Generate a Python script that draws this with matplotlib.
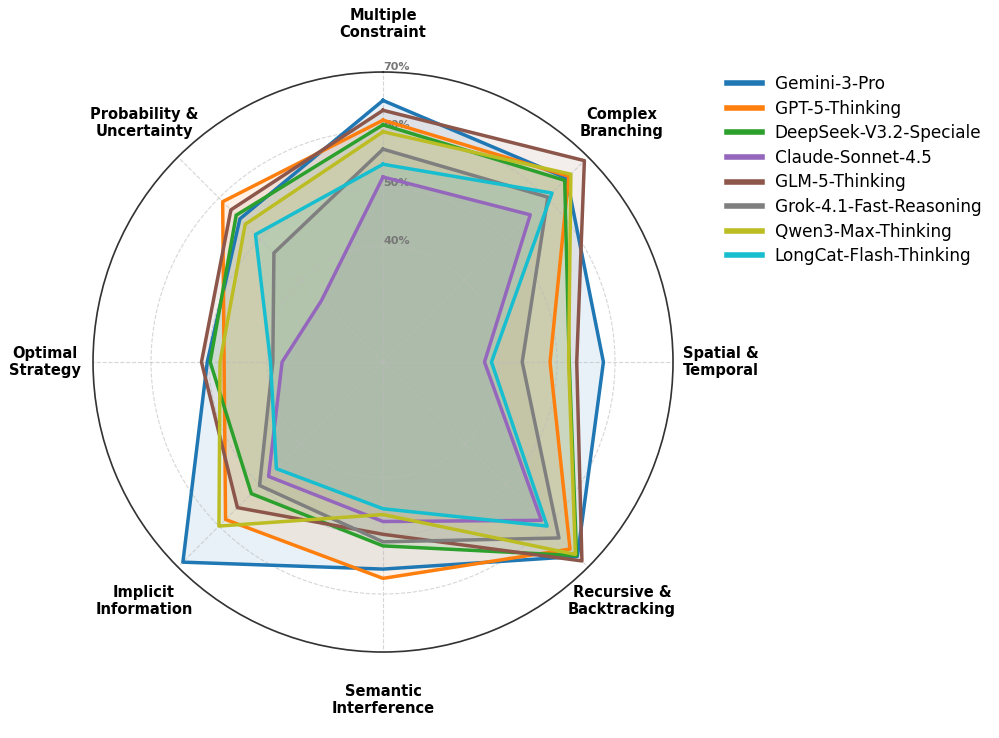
import matplotlib
matplotlib.use('AGG')

import numpy as np
import matplotlib.pyplot as plt

categories = ["Multiple\nConstraint", "Complex\nBranching", "Spatial &\nTemporal",
              "Recursive &\nBacktracking", "Semantic\nInterference", "Implicit\nInformation",
              "Optimal\nStrategy", "Probability &\nUncertainty"]

models = ["Gemini-3-Pro", "GPT-5-Thinking", "DeepSeek-V3.2-Speciale", "Claude-Sonnet-4.5",
          "GLM-5-Thinking", "Grok-4.1-Fast-Reasoning", "Qwen3-Max-Thinking",
          "LongCat-Flash-Thinking"]

gemini = [65.1, 64.8, 58.0, 67.4, 55.7, 68.8, 50.3, 54.9]
gpt5 = [61.7, 65.3, 48.8, 65.6, 57.3, 58.4, 47.4, 59.1]
deepseek = [60.9, 64.3, 52.1, 67.2, 51.7, 52.1, 49.8, 55.8]
claude = [51.9, 55.9, 37.5, 58.6, 47.5, 47.9, 37.4, 35.0]
glm = [63.4, 69.1, 53.4, 68.5, 49.7, 55.5, 51.3, 57.1]
grok = [56.7, 60.2, 44.0, 62.9, 51.0, 50.1, 39.0, 46.6]
qwen = [59.7, 65.8, 52.0, 66.9, 46.3, 60.0, 48.1, 53.6]
longcat = [54.1, 61.2, 38.7, 60.0, 45.3, 46.0, 39.4, 51.1]

colors = ["#1f77b4", "#ff7f0e", "#2ca02c", "#9467bd",
          "#8c564b", "#7f7f7f", "#bcbd22", "#17becf"]

r_ticks = [40, 50, 60, 70]
r_labels = ["40%", "50%", "60%", "70%"]


def plot_radar():
  series = [gemini, gpt5, deepseek, claude, glm, grok, qwen, longcat]
  n = len(categories)
  angles = np.linspace(0, 2 * np.pi, n, endpoint=False).tolist()
  angles += angles[:1]

  fig = plt.figure(figsize=(9.99, 7.38), dpi=100)
  ax = fig.add_axes([0.0931, 0.1165, 0.5806, 0.7859], projection='polar')
  ax.set_theta_offset(np.pi / 2)
  ax.set_theta_direction(-1)

  for name, vals, c in zip(models, series, colors):
    v = vals + vals[:1]
    ax.plot(angles, v, color=c, linewidth=2.5, label=name)
    ax.fill(angles, v, color=c, alpha=0.1)

  ax.set_ylim(20, 70)
  ax.set_yticks(r_ticks)
  ax.set_yticklabels(r_labels, fontsize=8, fontweight='bold', color='#777777')
  ax.set_rlabel_position(0)
  ax.set_xticks(angles[:-1])
  ax.set_xticklabels(categories, fontsize=10.5, fontweight='bold')
  ax.tick_params(axis='x', pad=24)
  ax.grid(color='#bbbbbb', linestyle='--', linewidth=0.8, alpha=0.6)
  ax.spines['polar'].set_color('#333333')
  ax.spines['polar'].set_linewidth(1.2)

  leg = fig.legend(loc='upper left', bbox_to_anchor=(0.712, 0.919), fontsize=12.2,
                   frameon=False, handlelength=2.1, handletextpad=0.75,
                   labelspacing=0.39)
  for line in leg.get_lines():
    line.set_linewidth(4)

  fig.savefig('out.png', dpi=100)


def main():
  plot_radar()

if __name__ == "__main__":
    main()
